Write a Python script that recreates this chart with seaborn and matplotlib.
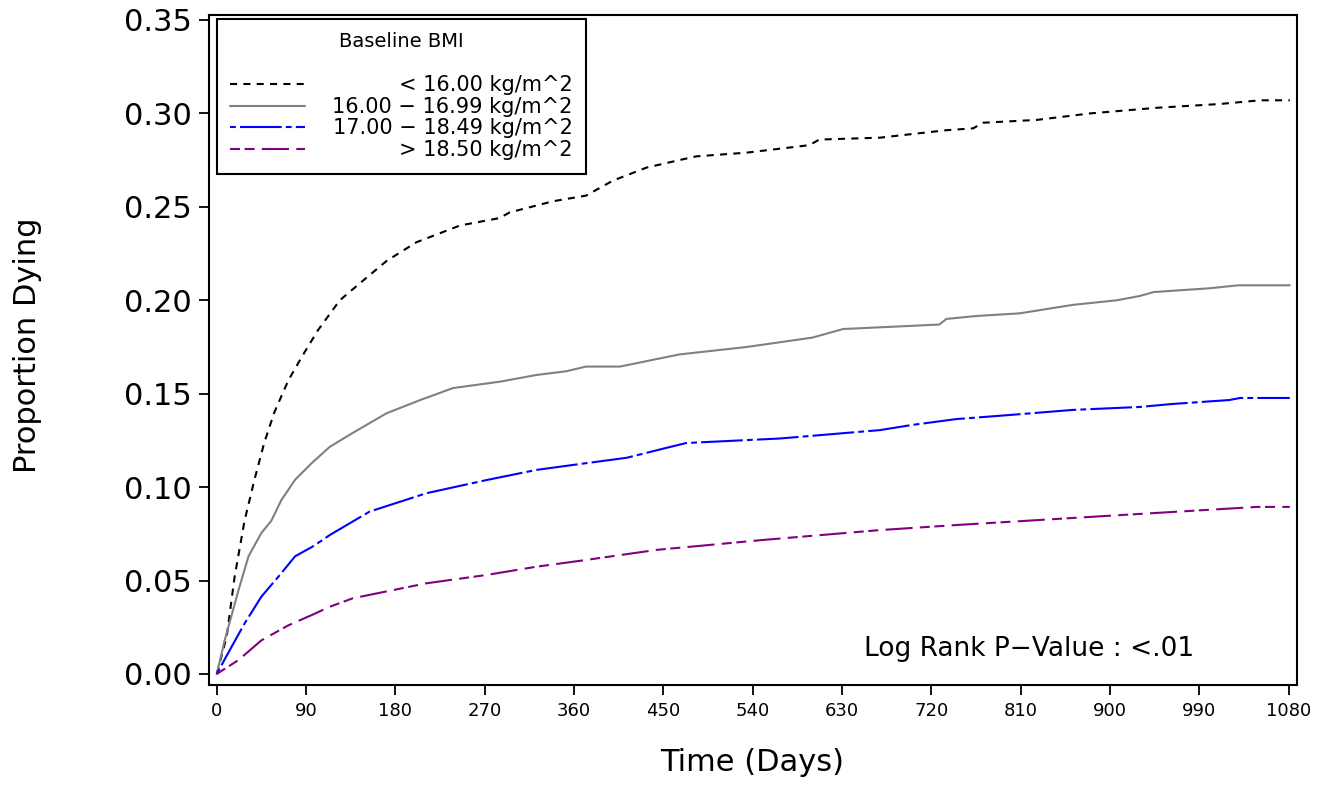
import matplotlib
matplotlib.use("Agg")
import numpy as np
import pandas as pd
import matplotlib.pyplot as plt
import seaborn as sns

# cumulative proportion dying (days, proportion)
black_days = [0, 10, 18, 28, 38, 48, 58, 72, 86, 102, 124, 144, 171, 201, 245, 285, 295,
              339, 372, 399, 433, 466, 483, 534, 597, 607, 668, 735, 762, 772, 826, 880,
              947, 1010, 1051, 1081]
black_vals = [0.0, 0.020, 0.052, 0.082, 0.104, 0.124, 0.140, 0.157, 0.170, 0.184, 0.200,
              0.209, 0.221, 0.231, 0.240, 0.244, 0.247, 0.253, 0.256, 0.264, 0.271, 0.275,
              0.277, 0.279, 0.283, 0.286, 0.287, 0.291, 0.292, 0.295, 0.2965, 0.300, 0.303,
              0.305, 0.307, 0.307]

gray_days = [0, 8, 22, 32, 45, 55, 65, 79, 96, 114, 137, 171, 205, 238, 285, 322, 352, 372,
             406, 420, 466, 534, 600, 631, 728, 735, 766, 809, 862, 907, 930, 944, 1000,
             1029, 1081]
gray_vals = [0.0, 0.018, 0.045, 0.063, 0.0755, 0.082, 0.093, 0.104, 0.113, 0.1216, 0.129,
             0.1395, 0.1466, 0.153, 0.1564, 0.160, 0.162, 0.1645, 0.1645, 0.166, 0.171,
             0.175, 0.180, 0.1846, 0.187, 0.190, 0.1916, 0.193, 0.1975, 0.200, 0.2023,
             0.2044, 0.2064, 0.208, 0.208]

blue_days = [0, 15, 28, 45, 62, 79, 96, 104, 114, 154, 211, 272, 322, 372, 413, 453, 473,
             567, 668, 701, 745, 799, 862, 930, 963, 1020, 1031, 1081]
blue_vals = [0.0, 0.0146, 0.027, 0.0414, 0.052, 0.063, 0.068, 0.0708, 0.0744, 0.0869,
             0.0967, 0.1038, 0.1092, 0.1128, 0.1157, 0.121, 0.1236, 0.126, 0.1305, 0.1333,
             0.1364, 0.1386, 0.1413, 0.1429, 0.1445, 0.1466, 0.1477, 0.1477]

purple_days = [0, 22, 45, 72, 96, 114, 137, 211, 272, 322, 372, 443, 550, 668, 745, 897,
               963, 1048, 1081]
purple_vals = [0.0, 0.0075, 0.018, 0.026, 0.0316, 0.036, 0.0405, 0.0485, 0.053, 0.0574,
               0.061, 0.0664, 0.0717, 0.077, 0.0797, 0.0846, 0.0867, 0.0894, 0.0894]

groups = ["< 16.00 kg/m^2", "16.00 \u2212 16.99 kg/m^2",
          "17.00 \u2212 18.49 kg/m^2", "> 18.50 kg/m^2"]
colors = ["black", "#808080", "blue", "purple"]
x_ticks = list(range(0, 1081, 90))
y_ticks = [0.0, 0.05, 0.10, 0.15, 0.20, 0.25, 0.30, 0.35]

frames = []
for name, d, v in zip(groups, [black_days, gray_days, blue_days, purple_days],
                      [black_vals, gray_vals, blue_vals, purple_vals]):
    frames.append(pd.DataFrame({"days": d, "prop": v, "group": name}))
km = pd.concat(frames, ignore_index=True)

sns.set_theme(style="ticks")
plt.rcParams["font.family"] = ["DejaVu Sans"]
plt.rcParams.update({"text.color": "black", "axes.labelcolor": "black",
                     "xtick.color": "black", "ytick.color": "black"})

fig, ax = plt.subplots(figsize=(13.3, 7.85), dpi=100)
fig.subplots_adjust(left=0.157, right=0.975, bottom=0.1274, top=0.981)

dash_map = {
    groups[0]: (3.4, 3.0),
    groups[1]: "",
    groups[2]: (2.8, 2.0, 20, 2.0),
    groups[3]: (4.8, 2.2, 4.8, 3.5, 13, 3.5),
}
sns.lineplot(data=km, x="days", y="prop", hue="group", style="group",
             hue_order=groups, style_order=groups, palette=dict(zip(groups, colors)),
             dashes=dash_map, estimator=None, sort=True, linewidth=1.5,
             legend=False, ax=ax)

ax.set_xlim(-8, 1088)
ax.set_ylim(-0.0059, 0.3527)
ax.set_xticks(x_ticks)
ax.set_yticks(y_ticks)
ax.set_yticklabels([f"{t:.2f}" for t in y_ticks], fontsize=22)
ax.set_xticklabels([str(t) for t in x_ticks], fontsize=13)
ax.tick_params(axis="both", direction="out", length=7, width=1.3, color="black")
ax.tick_params(axis="y", pad=5)
ax.tick_params(axis="x", pad=5)
for sp in ax.spines.values():
    sp.set_visible(True)
    sp.set_color("black")
    sp.set_linewidth(1.5)

ax.set_xlabel("Time (Days)", fontsize=22)
ax.set_ylabel("Proportion Dying", fontsize=22)
ax.xaxis.set_label_coords(0.499, -0.094)
ax.yaxis.set_label_coords(-0.1535, 0.507)

ax.text(0.754, 0.054, "Log Rank P\u2212Value : <.01", transform=ax.transAxes,
        ha="center", va="center", fontsize=19)

handles = ax.get_lines()[:4]
leg = ax.legend(handles, groups, title="Baseline BMI\n", loc="upper left",
                bbox_to_anchor=(0.0074, 0.994), borderaxespad=0, fontsize=15,
                title_fontsize=14, handlelength=3.6, handletextpad=1.3,
                labelspacing=0.08, fancybox=False, framealpha=1, borderpad=0.65,
                edgecolor="black")
leg.get_frame().set_linewidth(1.5)

# right-align the legend labels like the original
fig.canvas.draw()
texts = leg.get_texts()
widths = [t.get_window_extent().width for t in texts]
max_w = max(widths)
for t, w in zip(texts, widths):
    t.set_position((max_w - w, 0))

fig.savefig("out.png", dpi=100)
